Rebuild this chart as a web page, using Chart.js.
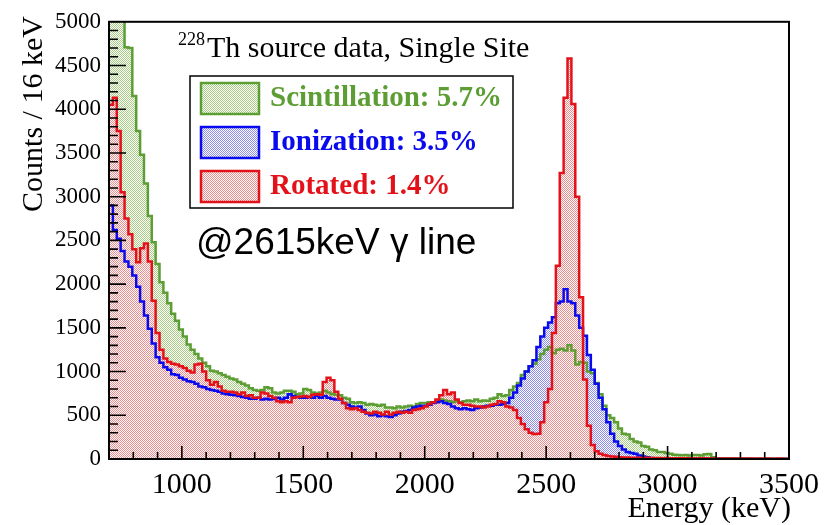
<!DOCTYPE html>
<html>
<head>
<meta charset="utf-8">
<script src="https://cdn.jsdelivr.net/npm/chart.js@4.4.1/dist/chart.umd.min.js"></script>
<style>
  html, body { margin: 0; padding: 0; background: #fff; }
  #wrap { width: 827px; height: 525px; }
</style>
</head>
<body>
<div id="wrap"><canvas id="spec" width="827" height="525"></canvas></div>
<script>
// 228Th single-site spectrum, 16 keV bins from 700 keV
const binStart = 700;
const binWidth = 16;
const xTicks = [1000, 1500, 2000, 2500, 3000, 3500];

const scintCounts = [
  6400, 5900, 5500, 5200, 4710, 4700, 4150, 3750, 3480, 3150,
  2780, 2480, 2230, 2020, 1900, 1780, 1660, 1580, 1480, 1400,
  1310, 1250, 1200, 1150, 1100, 1060, 1010, 1000, 980, 960,
  940, 920, 910, 880, 860, 840, 810, 790, 780, 790,
  820, 810, 760, 750, 760, 780, 780, 770, 740, 750,
  800, 790, 760, 750, 760, 780, 760, 740, 735, 730,
  700, 690, 650, 640, 650, 640, 620, 630, 620, 610,
  620, 590, 590, 580, 600, 590, 600, 610, 600, 630,
  640, 640, 650, 650, 660, 680, 670, 660, 650, 660,
  650, 660, 670, 660, 680, 660, 670, 665, 690, 700,
  740, 720, 730, 790, 830, 870, 960, 1000, 1060, 1090,
  1140, 1200, 1250, 1280, 1210, 1250, 1260, 1240, 1300, 1240,
  1080, 1110, 1100, 1000, 980, 870, 740, 610, 500, 470,
  420, 350, 290, 280, 230, 200, 190, 150, 140, 110,
  100, 80, 80, 68, 60, 50, 45, 42, 45, 40,
  45, 45, 40, 55, 57, 20, 10, 8, 10, 6,
  8, 5, 6, 4, 5, 3, 4, 3, 2, 3,
  2, 2, 1, 2, 1
];

const ionCounts = [
  2900, 2620, 2520, 2380, 2260, 2200, 2100, 1970, 1800, 1640,
  1490, 1320, 1165, 1100, 1050, 1020, 970, 960, 930, 910,
  890, 880, 860, 830, 820, 800, 790, 780, 770, 750,
  740, 735, 730, 720, 710, 700, 690, 690, 700, 680,
  690, 680, 690, 700, 680, 700, 740, 720, 710, 700,
  700, 710, 700, 720, 700, 720, 700, 690, 680, 680,
  640, 620, 600, 590, 600, 560, 520, 500, 510, 490,
  500, 490, 480, 500, 520, 540, 550, 560, 590, 600,
  610, 610, 620, 640, 650, 660, 640, 630, 600, 580,
  570, 580, 570, 560, 580, 590, 600, 610, 610, 620,
  620, 630, 640, 700, 760, 840, 920, 1000, 1060, 1130,
  1280, 1400, 1500, 1560, 1620, 1780, 1800, 1940, 1800, 1780,
  1640, 1500, 1410, 1190, 1020, 860, 700, 570, 420, 290,
  200, 150, 110, 80, 70, 60, 40, 30, 20, 12,
  10, 8, 8, 6, 5, 6, 4, 5, 3, 4,
  3, 2, 3, 2, 2, 1, 2, 1, 1, 2,
  1, 1, 0, 1, 1, 0, 1, 0, 0, 1,
  0, 0, 1, 0, 0
];

const rotCounts = [
  4050, 4130, 3750, 3050, 2750, 2570, 2400, 2250, 2410, 2465,
  2260, 1810, 1440, 1250, 1150, 1110, 1090, 1080, 1060, 1040,
  1010, 990, 1080, 1090, 1000, 900, 850, 880, 830, 780,
  770, 770, 760, 740, 760, 720, 730, 700, 700, 760,
  750, 720, 700, 660, 650, 660, 650, 700, 710, 715,
  720, 710, 735, 740, 735, 880, 930, 900, 770, 690,
  640, 580, 570, 580, 560, 540, 530, 520, 540, 530,
  510, 540, 510, 530, 540, 530, 540, 530, 560, 570,
  580, 600, 630, 650, 680, 730, 790, 740, 760, 680,
  640, 620, 620, 610, 600, 600, 590, 600, 620, 630,
  660, 650, 600, 590, 560, 470, 400, 340, 300, 285,
  290, 420, 650, 800, 1440, 2210, 3270, 4130, 4580, 4060,
  3000, 1850, 910, 380, 160, 90, 60, 45, 35, 30,
  25, 20, 18, 16, 15, 14, 15, 12, 13, 12,
  11, 12, 10, 11, 10, 9, 10, 9, 8, 9,
  8, 8, 7, 8, 7, 7, 6, 7, 6, 6,
  5, 6, 5, 5, 6, 5, 4, 5, 4, 5,
  4, 4, 5, 4, 4
];

const series = [
  { label: 'Scintillation: 5.7%', counts: scintCounts, line: '#5c9e34', dot: '#a6cc85' },
  { label: 'Ionization: 3.5%',    counts: ionCounts,   line: '#0a0aee', dot: '#8c8cf0' },
  { label: 'Rotated: 1.4%',       counts: rotCounts,   line: '#e3121a', dot: '#f08c8c' }
];

// checkerboard stipple, same grid for every histogram so upper fills hide lower ones
function stipple(color) {
  const c = document.createElement('canvas');
  c.width = 2; c.height = 2;
  const g = c.getContext('2d');
  g.fillStyle = color;
  g.fillRect(0, 0, 1, 1);
  g.fillRect(1, 1, 1, 1);
  return g.createPattern(c, 'repeat');
}

// bin left edges plus the closing edge at the end of the range
function toSteps(counts) {
  const pts = counts.map((v, i) => ({ x: binStart + i * binWidth, y: v }));
  pts.push({ x: binStart + counts.length * binWidth, y: counts[counts.length - 1] });
  return pts;
}

const serif = '"Liberation Serif", "Times New Roman", serif';

const decor = {
  id: 'decor',
  afterDraw(chart) {
    const { ctx, chartArea: a, scales: { x, y } } = chart;
    ctx.save();

    // inward ticks on the bottom and left axes
    ctx.strokeStyle = '#000';
    ctx.lineWidth = 1.6;
    ctx.beginPath();
    for (let e = 800; e < 3500; e += 100) {
      const px = x.getPixelForValue(e);
      const len = e % 500 === 0 ? 13 : 7;
      ctx.moveTo(px, a.bottom);
      ctx.lineTo(px, a.bottom - len);
    }
    for (let c = 100; c < 5000; c += 100) {
      const py = y.getPixelForValue(c);
      const len = c % 500 === 0 ? 17 : 9;
      ctx.moveTo(a.left, py);
      ctx.lineTo(a.left + len, py);
    }
    ctx.stroke();

    ctx.lineWidth = 2;
    ctx.strokeRect(a.left, a.top, a.right - a.left, a.bottom - a.top);

    // axis titles
    ctx.fillStyle = '#000';
    ctx.font = '30px ' + serif;
    ctx.textAlign = 'right';
    ctx.textBaseline = 'alphabetic';
    ctx.fillText('Energy (keV)', 791, 517);

    ctx.save();
    ctx.translate(42, 114);
    ctx.rotate(-Math.PI / 2);
    ctx.textAlign = 'center';
    ctx.fillText('Counts / 16 keV', 0, 0);
    ctx.restore();

    // title with isotope superscript
    ctx.textAlign = 'left';
    ctx.font = '18px ' + serif;
    ctx.fillText('228', 178, 45);
    ctx.font = '30px ' + serif;
    ctx.fillText('Th source data, Single Site', 207, 57);

    // legend box
    const bx = 190, by = 76, bw = 323, bh = 132;
    ctx.fillStyle = '#fff';
    ctx.fillRect(bx, by, bw, bh);
    ctx.lineWidth = 1.5;
    ctx.strokeStyle = '#000';
    ctx.strokeRect(bx, by, bw, bh);
    const rows = [98, 142, 186];
    series.forEach((s, i) => {
      const cy = rows[i];
      ctx.fillStyle = stipple(s.dot);
      ctx.fillRect(201, cy - 15, 58, 31);
      ctx.strokeStyle = s.line;
      ctx.lineWidth = 2.5;
      ctx.strokeRect(201, cy - 15, 58, 31);
      ctx.fillStyle = s.line;
      ctx.font = 'bold 29px ' + serif;
      ctx.textBaseline = 'middle';
      ctx.fillText(s.label, 270, cy + 1);
    });

    ctx.fillStyle = '#000';
    ctx.textBaseline = 'alphabetic';
    ctx.font = '37px "Liberation Sans", Arial, sans-serif';
    ctx.fillText('@2615keV \u03b3 line', 196, 254);

    ctx.restore();
  }
};

new Chart(document.getElementById('spec'), {
  type: 'line',
  data: {
    datasets: series.map((s, i) => ({
      label: s.label,
      data: toSteps(s.counts),
      stepped: 'before',
      borderColor: s.line,
      borderWidth: 2.5,
      backgroundColor: stipple(s.dot),
      fill: 'origin',
      pointRadius: 0,
      order: series.length - i
    }))
  },
  options: {
    responsive: false,
    animation: false,
    devicePixelRatio: 1,
    layout: { padding: { top: 17, right: 34, left: 0, bottom: 0 } },
    plugins: {
      legend: { display: false },
      tooltip: { enabled: false },
      filler: { drawTime: 'beforeDatasetsDraw' }
    },
    scales: {
      x: {
        type: 'linear',
        min: 700,
        max: 3500,
        grid: { display: false, drawTicks: false },
        border: { display: false },
        afterBuildTicks: scale => { scale.ticks = xTicks.map(v => ({ value: v })); },
        afterFit: scale => { scale.height = 66; },
        ticks: {
          color: '#000',
          padding: 8,
          maxRotation: 0,
          font: { family: serif, size: 30 },
          callback: v => String(v)
        }
      },
      y: {
        min: 0,
        max: 5000,
        grid: { display: false, drawTicks: false },
        border: { display: false },
        afterFit: scale => { scale.width = 109; },
        ticks: {
          color: '#000',
          stepSize: 500,
          padding: 8,
          font: { family: serif, size: 23 },
          callback: v => String(v)
        }
      }
    }
  },
  plugins: [decor]
});
</script>
</body>
</html>
